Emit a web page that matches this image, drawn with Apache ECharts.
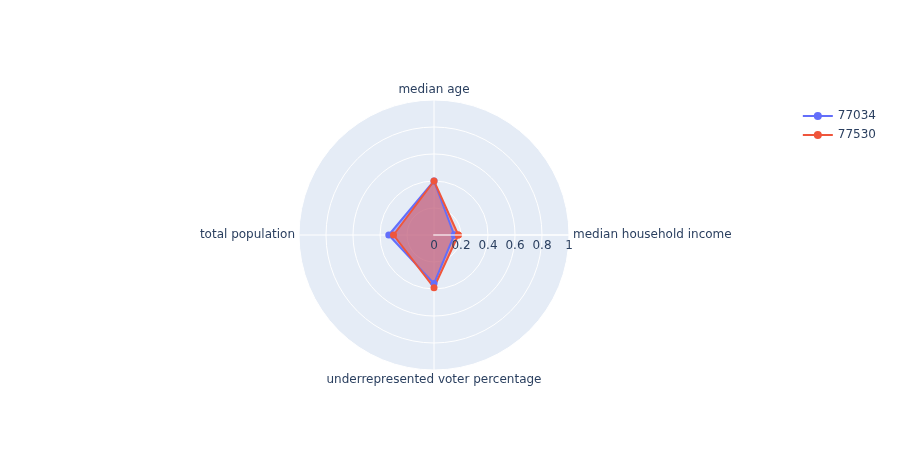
<!DOCTYPE html>
<html><head><meta charset="utf-8">
<script src="https://cdn.jsdelivr.net/npm/echarts@6/dist/echarts.min.js"></script>
<style>html,body{margin:0;padding:0;background:#fff}#c{width:899px;height:450px}</style>
</head><body><div id="c"></div>
<script>
// categories in counter-clockwise order starting at 0 degrees
const categories = ['median household income', 'median age', 'total population', 'underrepresented voter percentage'];
const series77034 = [0.15, 0.40, 0.335, 0.36];
const series77530 = [0.18, 0.40, 0.30, 0.39];
const radialTicks = ['0', '0.2', '0.4', '0.6', '0.8', '1'];

function toPolar(vals) {
  const pts = vals.map((v, i) => [v, i * 90]);
  pts.push([vals[0], 360]);
  return pts;
}
const font = '"DejaVu Sans", Verdana, sans-serif';
const center = ['434px', '235px'];
const chart = echarts.init(document.getElementById('c'));
chart.setOption({
  animation: false,
  textStyle: { fontFamily: font },
  polar: [{ center: center, radius: 135 }, { center: center, radius: 135 }],
  angleAxis: [{
    polarIndex: 0, z: 0,
    type: 'value', min: 0, max: 360, interval: 90, startAngle: 0, clockwise: false,
    axisLine: { show: false }, axisTick: { show: false },
    splitLine: { show: false },
    splitArea: { show: true, areaStyle: { color: ['#E5ECF6'] } },
    axisLabel: {
      color: '#2a3f5f', fontSize: 12, fontFamily: font, margin: 4,
      formatter: v => (v % 90 === 0 && v < 360) ? categories[v / 90] : ''
    }
  }, {
    polarIndex: 1, z: 1,
    type: 'value', min: 0, max: 360, interval: 90, startAngle: 0, clockwise: false,
    axisLine: { show: false }, axisTick: { show: false }, axisLabel: { show: false },
    splitLine: { show: true, lineStyle: { color: '#fff', width: 1 } }
  }],
  radiusAxis: [{
    polarIndex: 0, z: 1,
    type: 'value', min: 0, max: 1, interval: 0.2,
    axisLine: { show: false }, axisTick: { show: false }, axisLabel: { show: false },
    splitLine: { show: true, lineStyle: { color: '#fff', width: 1 } }
  }, {
    polarIndex: 1, z: 5,
    type: 'value', min: 0, max: 1, interval: 0.2,
    axisLine: { show: true, lineStyle: { color: 'rgba(255,255,255,0.55)', width: 2 } },
    axisTick: { show: false },
    splitLine: { show: false },
    axisLabel: { color: '#2a3f5f', fontSize: 12, fontFamily: font, margin: -17,
      formatter: v => radialTicks[Math.round(v * 5)] }
  }],
  legend: {
    right: 18, top: 105, orient: 'vertical', itemGap: 7, itemWidth: 30, itemHeight: 10,
    textStyle: { color: '#2a3f5f', fontSize: 12, fontFamily: font },
    data: ['77034', '77530']
  },
  series: [
    { name: '77034', type: 'line', coordinateSystem: 'polar', polarIndex: 0, data: toPolar(series77034),
      symbol: 'circle', symbolSize: 7, color: '#636efa', z: 3,
      lineStyle: { width: 2, color: '#636efa' }, itemStyle: { color: '#636efa' },
      areaStyle: { color: '#636efa', opacity: 0.5 } },
    { name: '77530', type: 'line', coordinateSystem: 'polar', polarIndex: 0, data: toPolar(series77530),
      symbol: 'circle', symbolSize: 7, color: '#EF553B', z: 3,
      lineStyle: { width: 2, color: '#EF553B' }, itemStyle: { color: '#EF553B' },
      areaStyle: { color: '#EF553B', opacity: 0.5 } }
  ]
});
</script></body></html>
